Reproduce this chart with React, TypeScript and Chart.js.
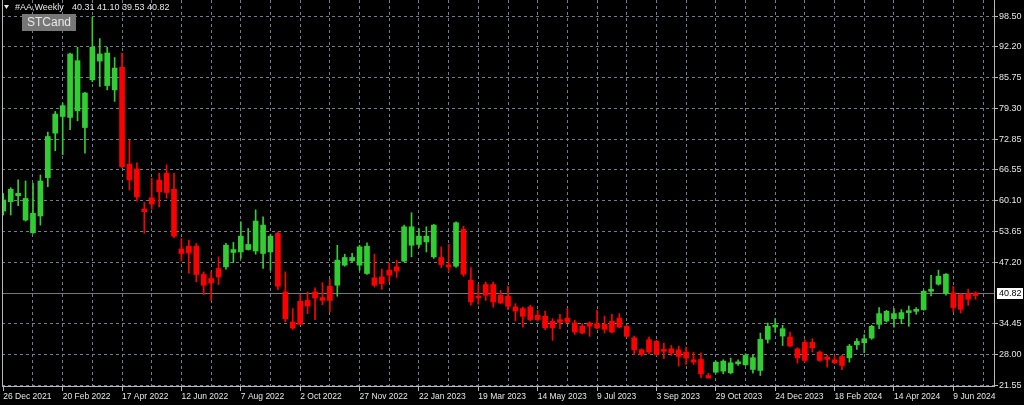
import React, { useEffect, useRef } from 'react';
import { Chart, registerables } from 'chart.js';

Chart.register(...registerables);

// ---- chart text ----
const symbolTitle = '#AA,Weekly';
const indicatorName = 'STCand';
const headerValues = [40.31, 41.1, 39.53, 40.82];
const lastPrice = 40.82;

// ---- x axis: one label every 8 weekly bars, grid every 4 ----
const dateLabels = [
  '26 Dec 2021', '20 Feb 2022', '17 Apr 2022', '12 Jun 2022', '7 Aug 2022', '2 Oct 2022',
  '27 Nov 2022', '22 Jan 2023', '19 Mar 2023', '14 May 2023', '9 Jul 2023', '3 Sep 2023',
  '29 Oct 2023', '24 Dec 2023', '18 Feb 2024', '14 Apr 2024', '9 Jun 2024',
];
const labelEvery = 8;
const gridEvery = 4;

// ---- y axis tick labels ----
const priceTicks = [21.55, 28.0, 34.45, 47.2, 53.65, 60.1, 66.55, 72.85, 79.3, 85.75, 92.2, 98.5];

// ---- weekly OHLC ----
const opens = [
  57.94, 59.88, 61.13, 56.05, 53.4, 56.9, 64.9, 74.18, 77.65, 77.45,
  78.85, 75.35, 85.3, 89.2, 84.1, 83.2, 87.9, 67.7, 66.7, 58.35,
  60.7, 64.4, 65.8, 62.47, 49.99, 50.6, 50.6, 44.7, 43.86, 45.95,
  46.3, 49.3, 49.4, 49.9, 49.6, 49.09, 49.4, 53.27, 41.06, 34.8,
  39.1, 39.3, 41.06, 39.88, 42.25, 42.46, 46.64, 47.55, 46.64, 44.9,
  44.0, 44.2, 45.6, 46.3, 47.48, 50.8, 50.97, 51.5, 48.38, 48.25,
  46.64, 46.43, 54.1, 43.5, 40.16, 42.6, 42.6, 40.37, 40.16, 37.92,
  37.6, 37.92, 36.19, 35.98, 34.93, 35.29, 35.6, 34.6, 33.95, 34.6,
  34.45, 34.3, 34.93, 35.6, 33.9, 31.5, 29.0, 31.1, 30.75, 28.93,
  29.2, 29.0, 28.51, 26.92, 26.98, 23.64, 24.33, 24.54, 24.2, 26.08,
  25.87, 24.9, 24.69, 31.17, 33.74, 31.86, 31.65, 29.2, 30.54, 30.54,
  28.51, 27.47, 26.92, 27.6, 27.34, 30.06, 30.47, 31.44, 34.3, 35.0,
  35.5, 35.5, 36.75, 37.02, 37.38, 41.2, 42.67, 40.72, 40.86, 40.51,
  40.72, 40.82,
];
const highs = [
  61.6, 62.8, 64.42, 64.2, 63.7, 65.47, 74.4, 78.7, 80.45, 90.9,
  92.1, 82.7, 98.4, 93.9, 92.1, 89.95, 90.9, 72.8, 68.0, 59.7,
  64.8, 65.8, 67.55, 65.8, 52.2, 51.87, 51.18, 45.25, 45.25, 48.38,
  51.18, 51.4, 55.7, 54.3, 58.2, 56.75, 53.1, 53.6, 45.25, 37.6,
  40.5, 41.06, 41.9, 43.0, 43.7, 50.8, 48.94, 49.1, 50.8, 51.3,
  48.94, 45.8, 47.1, 47.7, 55.0, 57.58, 54.3, 54.65, 55.15, 50.47,
  50.97, 55.7, 54.8, 46.16, 42.67, 43.15, 43.1, 41.4, 42.25, 38.63,
  37.92, 38.28, 37.23, 37.02, 35.5, 36.4, 37.6, 35.14, 34.45, 34.8,
  37.23, 36.04, 36.4, 36.54, 34.1, 31.86, 29.2, 31.65, 30.96, 30.4,
  29.9, 29.77, 29.56, 28.51, 28.38, 24.12, 26.63, 26.92, 27.26, 26.92,
  28.18, 27.96, 32.49, 34.58, 35.5, 34.1, 32.7, 29.43, 31.1, 31.31,
  28.72, 27.82, 27.82, 27.82, 30.12, 31.31, 32.15, 34.1, 37.8, 37.23,
  37.6, 37.38, 38.13, 37.8, 41.42, 44.55, 45.6, 44.9, 42.25, 40.72,
  41.63, 41.1,
];
const lows = [
  57.1, 57.1, 59.04, 55.84, 53.27, 55.0, 63.0, 70.5, 69.65, 74.9,
  76.75, 70.0, 84.9, 83.9, 83.2, 80.8, 67.0, 62.3, 60.0, 53.3,
  58.35, 58.8, 60.6, 52.4, 47.48, 45.0, 43.15, 40.51, 39.3, 42.6,
  45.8, 47.2, 48.05, 49.8, 48.95, 45.95, 45.6, 41.56, 34.8, 33.26,
  34.24, 36.54, 35.3, 38.4, 36.9, 40.16, 46.43, 47.4, 45.6, 44.7,
  42.1, 41.6, 43.15, 44.07, 47.33, 48.38, 50.35, 49.4, 48.05, 46.16,
  45.25, 46.16, 44.34, 38.28, 38.49, 39.3, 37.9, 38.63, 37.38, 35.0,
  33.74, 34.99, 34.99, 33.19, 30.96, 33.4, 34.6, 32.2, 32.36, 31.8,
  33.4, 32.49, 32.49, 33.6, 31.65, 28.03, 27.68, 28.18, 27.82, 27.13,
  27.82, 25.6, 25.94, 25.94, 23.16, 23.08, 24.12, 23.99, 23.99, 25.73,
  25.73, 24.12, 23.64, 30.4, 32.7, 29.9, 29.7, 26.21, 26.42, 28.51,
  26.57, 25.38, 26.08, 24.83, 26.42, 29.08, 28.38, 31.17, 33.4, 34.79,
  33.74, 34.45, 33.9, 36.4, 37.23, 40.23, 42.46, 40.37, 36.9, 36.67,
  38.28, 39.53,
];
const closes = [
  60.24, 62.47, 61.63, 60.57, 57.46, 64.2, 73.47, 78.16, 79.9, 90.7,
  89.3, 82.55, 92.1, 90.7, 90.9, 87.75, 67.2, 64.4, 60.9, 57.8,
  59.4, 61.95, 61.8, 52.7, 49.09, 49.2, 44.7, 42.46, 42.95, 44.2,
  50.8, 49.9, 52.7, 50.97, 55.85, 55.0, 52.7, 42.25, 35.5, 33.53,
  34.3, 38.1, 39.8, 39.3, 39.3, 47.69, 48.25, 48.25, 50.47, 50.6,
  42.46, 42.8, 44.55, 45.4, 54.65, 54.65, 52.7, 52.7, 55.0, 46.78,
  46.3, 55.5, 44.76, 38.97, 39.8, 40.37, 38.97, 38.76, 38.07, 37.08,
  35.98, 35.29, 35.29, 33.6, 33.6, 34.72, 34.72, 32.7, 32.49, 33.9,
  33.53, 33.26, 32.7, 33.74, 31.8, 29.0, 28.03, 28.51, 28.03, 28.66,
  28.3, 27.6, 27.26, 26.42, 23.99, 23.1, 26.42, 26.63, 26.28, 26.42,
  27.82, 27.34, 31.17, 33.9, 33.95, 33.4, 29.77, 27.34, 26.78, 29.43,
  26.78, 26.99, 26.3, 25.73, 29.77, 30.75, 31.31, 33.9, 36.54, 37.02,
  36.54, 36.75, 36.88, 37.38, 41.2, 41.63, 44.34, 44.76, 37.8, 37.45,
  39.53, 40.31,
];

// ---- styles ----
const GREEN = '#32CD32';
const RED = '#FF0000';
const GRID = '#6f7f8f';
const AXIS = '#b8b8b8';
const TEXT = '#e6e6e6';
const PRICE_LINE = '#767676';
const FONT = "'Liberation Sans', Arial, sans-serif";

const isUp = (i: number) => closes[i] >= opens[i];

const overlayPlugin = {
  id: 'mtOverlay',
  beforeDatasetsDraw(chart: any) {
    const { ctx, chartArea, scales } = chart;
    const y = Math.round(scales.y.getPixelForValue(lastPrice)) + 0.5;
    ctx.save();
    ctx.strokeStyle = PRICE_LINE;
    ctx.lineWidth = 1;
    ctx.beginPath();
    ctx.moveTo(chartArea.left, y);
    ctx.lineTo(chartArea.right, y);
    ctx.stroke();
    ctx.restore();
  },
  afterDraw(chart: any) {
    const { ctx, chartArea, scales } = chart;
    ctx.save();
    // left border
    ctx.strokeStyle = AXIS;
    ctx.lineWidth = 1;
    ctx.beginPath();
    ctx.moveTo(chartArea.left + 0.5, chartArea.top);
    ctx.lineTo(chartArea.left + 0.5, chartArea.bottom);
    ctx.stroke();

    // last price label on the axis
    const y = Math.round(scales.y.getPixelForValue(lastPrice));
    const bx = chartArea.right + 3;
    ctx.fillStyle = '#ffffff';
    ctx.fillRect(bx, y - 5, 1024 - bx - 1, 11);
    ctx.fillStyle = '#000000';
    ctx.font = `9px ${FONT}`;
    ctx.textAlign = 'left';
    ctx.textBaseline = 'middle';
    ctx.fillText(lastPrice.toFixed(2), bx + 2, y + 0.5);

    // header
    ctx.fillStyle = TEXT;
    ctx.beginPath();
    ctx.moveTo(4, 5);
    ctx.lineTo(9, 5);
    ctx.lineTo(6.5, 9);
    ctx.closePath();
    ctx.fill();
    ctx.font = `9px ${FONT}`;
    ctx.textBaseline = 'middle';
    ctx.fillText(symbolTitle, 15, 7.5);
    ctx.fillText(headerValues.map((v) => v.toFixed(2)).join(' '), 72, 7.5);

    // indicator label box
    ctx.fillStyle = '#777777';
    ctx.fillRect(22, 14, 54, 17);
    ctx.fillStyle = '#e8e8e8';
    ctx.font = `12px ${FONT}`;
    ctx.textAlign = 'center';
    ctx.fillText(indicatorName, 49, 23);
    ctx.restore();
  },
};

export default function App() {
  const canvasRef = useRef<HTMLCanvasElement | null>(null);

  useEffect(() => {
    document.body.style.margin = '0';
    document.body.style.background = '#000';
    const canvas = canvasRef.current;
    if (!canvas) return;
    const idx = opens.map((_, i) => i);
    const wickData = idx.map((i) => ({ x: i, y: [lows[i], highs[i]] }));
    const bodyData = idx.map((i) => ({
      x: i,
      y: [Math.min(opens[i], closes[i]), Math.max(opens[i], closes[i])],
    }));
    const xTicks: number[] = [];
    for (let v = 0; v <= 132; v += gridEvery) xTicks.push(v);

    const chart = new Chart(canvas, {
      type: 'bar',
      data: {
        datasets: [
          {
            data: wickData as any,
            barThickness: 1,
            grouped: false,
            borderWidth: 0,
            backgroundColor: (c: any) => (isUp(c.dataIndex) ? GREEN : RED),
            order: 2,
          } as any,
          {
            data: bodyData as any,
            barThickness: 5,
            grouped: false,
            borderWidth: 0,
            minBarLength: 2,
            backgroundColor: (c: any) => (isUp(c.dataIndex) ? GREEN : RED),
            order: 1,
          } as any,
        ],
      },
      options: {
        animation: false,
        responsive: false,
        maintainAspectRatio: false,
        events: [],
        layout: { padding: { left: 2, top: 0, right: 0, bottom: 0 } },
        plugins: { legend: { display: false }, tooltip: { enabled: false } },
        scales: {
          x: {
            type: 'linear',
            position: 'bottom',
            offset: false,
            min: -0.175,
            max: 133.48,
            afterBuildTicks: (s: any) => {
              s.ticks = xTicks.map((v) => ({ value: v }));
            },
            afterFit: (s: any) => {
              s.height = 19;
              s.paddingLeft = 0;
              s.paddingRight = 0;
            },
            ticks: {
              autoSkip: false,
              maxRotation: 0,
              minRotation: 0,
              align: 'start',
              padding: 1,
              color: TEXT,
              font: { family: FONT, size: 8.5 },
              callback: (v: any) =>
                Number(v) % labelEvery === 0 ? dateLabels[Number(v) / labelEvery] ?? '' : '',
            },
            grid: {
              offset: false,
              color: (c: any) => (c.tick && c.tick.value === 0 ? 'rgba(0,0,0,0)' : GRID),
              tickColor: (c: any) =>
                c.tick && c.tick.value % labelEvery === 0 ? AXIS : 'rgba(0,0,0,0)',
              tickLength: 5,
              lineWidth: 1,
            },
            border: { display: true, color: AXIS, width: 1, dash: [3, 3] },
          },
          y: {
            type: 'linear',
            position: 'right',
            min: 21.446,
            max: 101.947,
            afterBuildTicks: (s: any) => {
              s.ticks = priceTicks.map((v) => ({ value: v }));
            },
            afterFit: (s: any) => {
              s.width = 30;
              s.paddingTop = 0;
              s.paddingBottom = 0;
            },
            ticks: {
              padding: 1,
              color: TEXT,
              font: { family: FONT, size: 9 },
              callback: (v: any) => Number(v).toFixed(2),
            },
            grid: {
              color: GRID,
              tickColor: AXIS,
              tickLength: 4,
              lineWidth: 1,
            },
            border: { display: true, color: AXIS, width: 1, dash: [3, 3] },
          },
        },
      } as any,
      plugins: [overlayPlugin],
    });
    return () => chart.destroy();
  }, []);

  return (
    <div style={{ position: 'fixed', left: 0, top: 0, width: 1024, height: 405, background: '#000' }}>
      <canvas ref={canvasRef} width={1024} height={405} style={{ display: 'block' }} />
    </div>
  );
}
